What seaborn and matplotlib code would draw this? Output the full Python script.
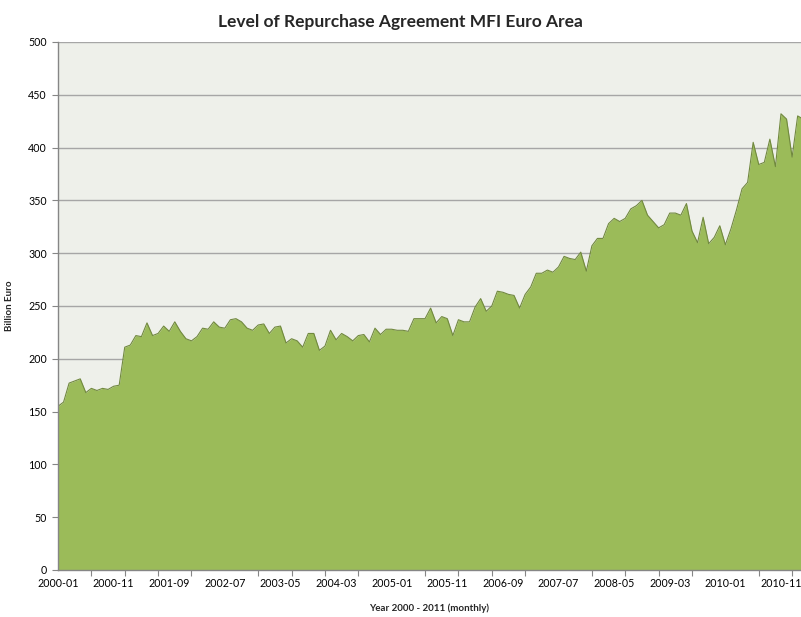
import matplotlib
matplotlib.use("Agg")
import matplotlib.pyplot as plt
import numpy as np
import pandas as pd
import seaborn as sns

# monthly repo level, billion euro, 2000-01 .. 2011-03
repo_values = [
    155, 159, 177, 179, 181, 168, 172, 170, 172, 171,
    174, 175, 211, 213, 222, 221, 234, 222, 224, 231,
    226, 235, 226, 219, 217, 221, 229, 228, 235, 230,
    229, 237, 238, 235, 229, 227, 232, 233, 224, 230,
    231, 215, 219, 217, 211, 224, 224, 208, 212, 227,
    218, 224, 221, 217, 222, 223, 216, 229, 223, 228,
    228, 227, 227, 226, 238, 238, 238, 248, 234, 240,
    238, 222, 237, 235, 235, 249, 257, 245, 250, 264,
    263, 261, 260, 248, 261, 268, 281, 281, 284, 282,
    287, 297, 295, 294, 301, 283, 307, 314, 314, 328,
    333, 330, 333, 342, 345, 350, 336, 330, 324, 327,
    338, 338, 336, 347, 321, 310, 334, 309, 315, 326,
    308, 323, 341, 361, 367, 405, 384, 386, 408, 382,
    432, 427, 391, 430, 427,
]
months = pd.period_range("2000-01", periods=len(repo_values), freq="M").strftime("%Y-%m")

df = pd.DataFrame({"idx": np.arange(len(repo_values)), "month": months, "value": repo_values})

sns.set_theme(style="white")
plt.rcParams["font.family"] = ["Lato", "DejaVu Sans"]

fig = plt.figure(figsize=(8.01, 6.17), dpi=100)
ax = fig.add_axes([58 / 801, 47 / 617, 743 / 801, 528 / 617])
ax.set_facecolor("#eef0ea")

ax.fill_between(df["idx"], df["value"], 0, color="#9bbb59", linewidth=0, zorder=2)
sns.lineplot(data=df, x="idx", y="value", color="#71893f", linewidth=0.8, ax=ax, zorder=3)

ax.set_ylim(0, 500)
ax.set_xlim(0, 133.6)
ax.set_yticks(range(0, 501, 50))
ax.yaxis.grid(True, color="#a6a6a6", linewidth=1.0, zorder=1)
ax.set_axisbelow(True)

label_pos = list(range(0, len(repo_values), 10))
ax.set_xticks(label_pos)
ax.set_xticklabels([months[i] for i in label_pos])
ax.set_xticks(range(0, len(repo_values), 6), minor=True)
ax.tick_params(axis="x", which="major", length=0, pad=6, labelsize=7.7, colors="black")
ax.tick_params(axis="x", which="minor", length=4, width=0.8, color="#868686", direction="out", bottom=True)
ax.tick_params(axis="y", length=4, width=0.8, color="#868686", direction="out", left=True, pad=4,
               labelsize=7.7, labelcolor="black")

for side in ["top", "right"]:
    ax.spines[side].set_visible(False)
for side in ["left", "bottom"]:
    ax.spines[side].set_color("#868686")
    ax.spines[side].set_linewidth(1.0)
    ax.spines[side].set_zorder(4)

ax.set_xlabel("Year 2000 - 2011 (monthly)", fontsize=7, fontweight="bold", labelpad=10)
ax.set_ylabel("Billion Euro", fontsize=7, fontweight="bold", labelpad=10)
fig.suptitle("Level of Repurchase Agreement MFI Euro Area", x=0.5, y=0.978, fontsize=12.5, fontweight="bold")

fig.savefig("out.png", dpi=100)
